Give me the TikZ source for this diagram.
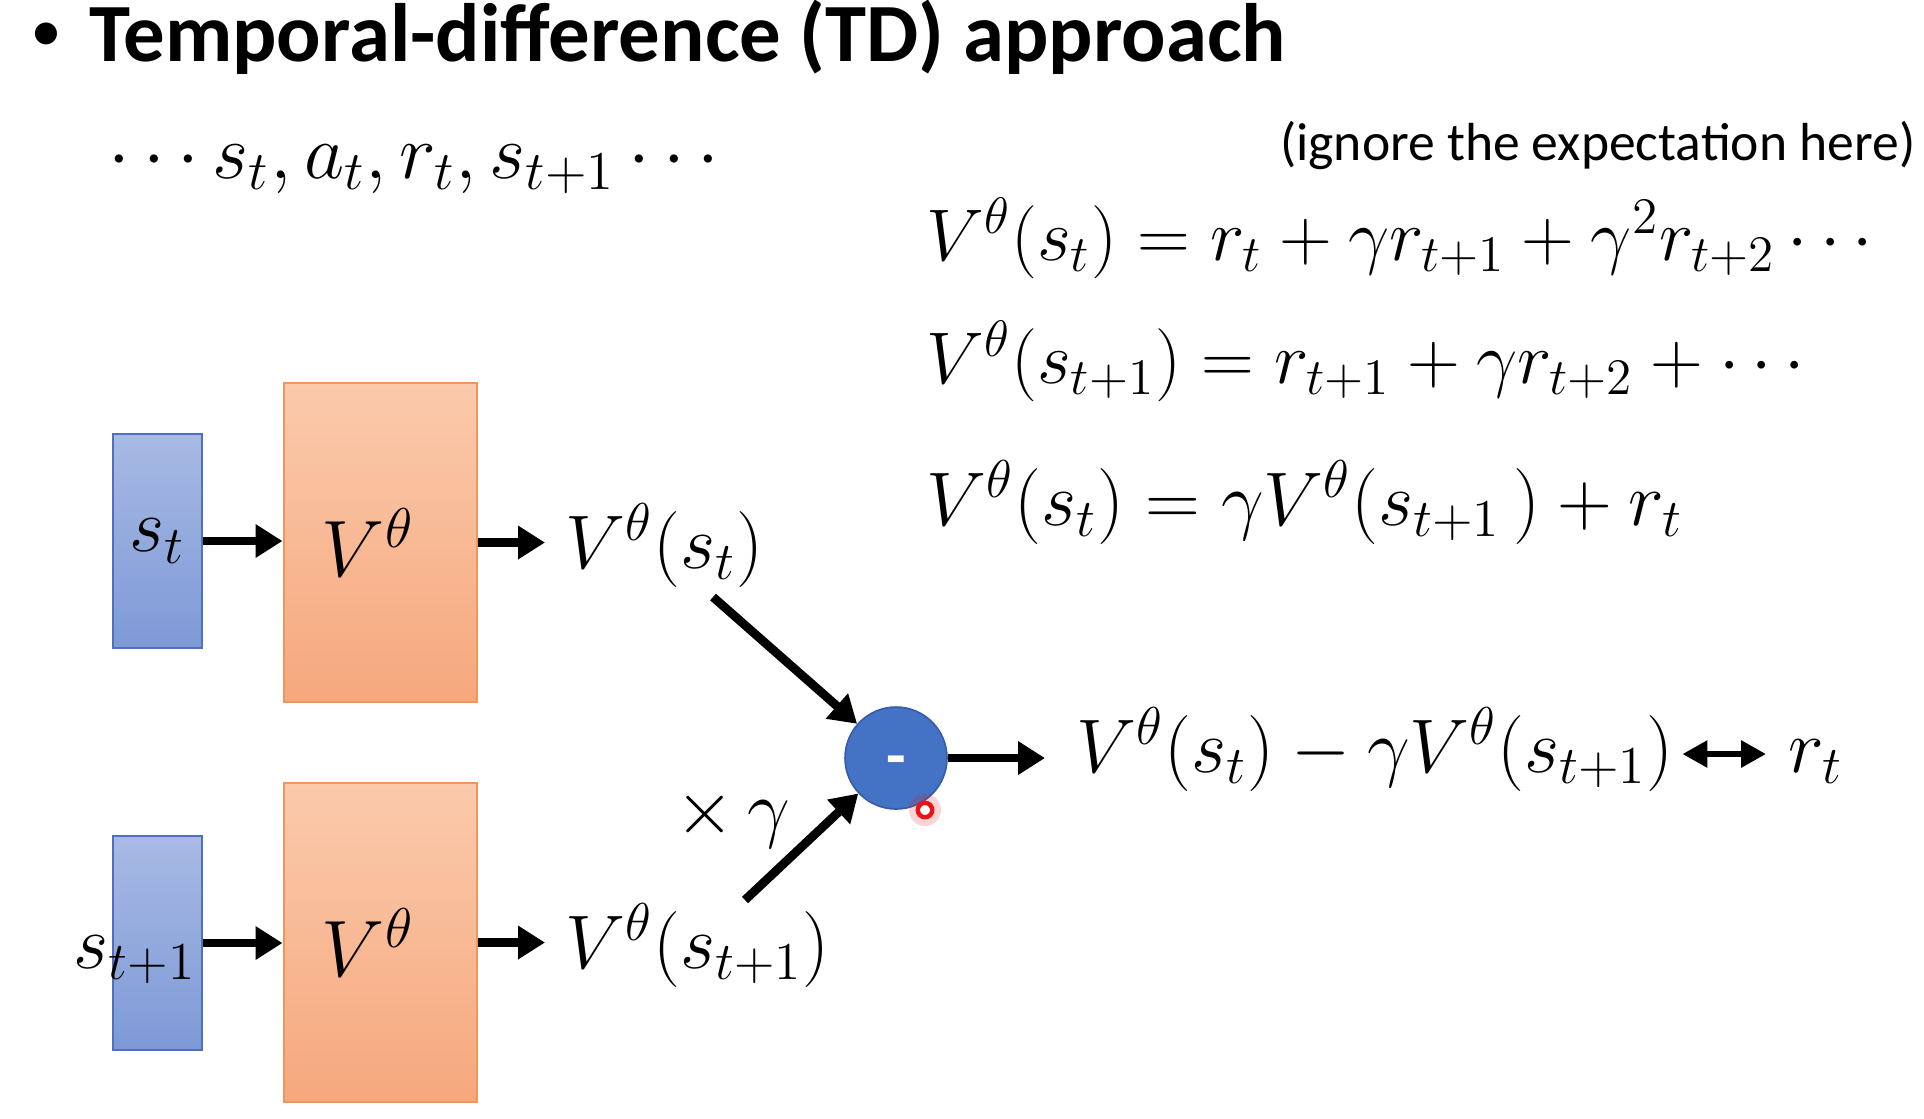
\RequirePackage{fix-cm}
\documentclass[tikz,border=0pt]{standalone}
\usepackage{amsmath}
\usepackage{fontspec}
\usepackage{tikz}
\usetikzlibrary{arrows.meta,positioning}
\newfontfamily\slidefont{Carlito}
\definecolor{InTop}{RGB}{168,186,228}
\definecolor{InBot}{RGB}{125,153,214}
\definecolor{InLine}{RGB}{80,112,190}
\definecolor{NetTop}{RGB}{250,202,172}
\definecolor{NetBot}{RGB}{246,168,125}
\definecolor{NetLine}{RGB}{238,150,95}
\definecolor{SubFill}{RGB}{68,114,196}
\definecolor{SubLine}{RGB}{52,92,170}
\definecolor{PtrRed}{RGB}{235,20,20}
\newcommand\mathsz{\fontsize{19}{23}\selectfont}
\newcommand\sumsz{\fontsize{18.3}{22}\selectfont}
\newcommand\lblsz{\fontsize{19}{23}\selectfont}
\newcommand\seqsz{\fontsize{19.5}{24}\selectfont}
\newcommand\netsz{\fontsize{20}{24}\selectfont}
\tikzset{
  inbox/.style={rectangle,draw=InLine,line width=0.5pt,top color=InTop,bottom color=InBot,
                minimum width=22.25pt,minimum height=53.5pt,inner sep=0pt,font=\lblsz},
  netbox/.style={rectangle,draw=NetLine,line width=0.5pt,top color=NetTop,bottom color=NetBot,
                 minimum width=48.25pt,minimum height=79.75pt,inner sep=0pt,font=\netsz},
  subnode/.style={circle,fill=SubFill,draw=SubLine,line width=0.4pt,minimum size=25.5pt,
                  inner sep=0pt,text=white,font=\slidefont\bfseries\fontsize{16}{18}\selectfont},
  eqn/.style={anchor=base west,inner sep=0pt,font=\mathsz},
  lbl/.style={anchor=base west,inner sep=0pt,font=\lblsz},
  heading/.style={anchor=base west,inner sep=0pt,font=\slidefont\bfseries\fontsize{20.7}{25}\selectfont},
  note/.style={anchor=base east,inner sep=0pt,font=\slidefont\fontsize{13.4}{16}\selectfont},
  flow/.style={-{Triangle[length=6.75pt,width=8pt]},line width=2.2pt},
  both/.style={{Triangle[length=6.25pt,width=6.5pt]}-{Triangle[length=6.25pt,width=6.5pt]},line width=1.5pt},
}
\begin{document}
\begin{tikzpicture}[x=0.25pt,y=-0.25pt]
  \fill[white] (0,0) rectangle (1924,1118);
  \useasboundingbox (0,0) rectangle (1924,1118);

  % heading and equations
  \node[heading] (title) at (33,61) {\raisebox{3.2pt}{\fontsize{13}{14}\selectfont\textbullet}\hspace{7.5pt}Temporal-difference (TD) approach};
  \node[eqn,font=\seqsz] (seq) at (108,178) {$\cdots s_t, a_t, r_t, s_{t+1} \cdots$};
  \node[note] (hint) at (1916,160) {(ignore the expectation here)};
  \node[eqn,font=\sumsz] (eq1) at (926,260) {$V^\theta(s_t) = r_t + \gamma r_{t+1} + \gamma^2 r_{t+2} \cdots$};
  \node[eqn,font=\sumsz] (eq2) at (926,383) {$V^\theta(s_{t+1}) = r_{t+1} + \gamma r_{t+2} + \cdots$};
  \node[eqn] (eq3) at (926,525) {$V^\theta(s_t) = \gamma V^\theta(s_{t+1}\,) + r_t$};

  % upper network
  \node[inbox] (st) at (157.5,541) {$s_t$};
  \node[netbox] (net1) at (380,542.5) {\hspace*{-6pt}$V^\theta$};
  \node[lbl] (vst) at (565,568) {$V^\theta(s_t)$};
  \draw[flow] (st.east) -- (st.east -| net1.west);
  \draw[flow,shorten >=5pt] (net1.east) -- (net1.east -| vst.west);

  % lower network
  \node[inbox] (sn1) at (157.5,943) {};
  \node[lbl] (lsn1) at (73,968) {$s_{t+1}$};
  \node[netbox] (net2) at (380,942.5) {\hspace*{-6pt}$V^\theta$};
  \node[lbl] (vsn1) at (565,968) {$V^\theta(s_{t+1})$};
  \draw[flow] (sn1.east) -- (sn1.east -| net2.west);
  \draw[flow,shorten >=5pt] (net2.east) -- (net2.east -| vsn1.west);

  % difference
  \node[subnode] (minus) at (896,758) {\raisebox{-4.8pt}[0pt][0pt]{-}};
  \coordinate (p1) at (713,597);
  \coordinate (p2) at (745,900);
  \draw[flow] (p1) -- (minus);
  \draw[flow] (p2) -- (minus);
  \node[lbl] (gam) at (675,833) {$\times\,\gamma$};
  \node[lbl] (diff) at (1076,772) {$V^\theta(s_t) - \gamma V^\theta(s_{t+1})$};
  \node[lbl] (rt) at (1788,772) {$r_t$};
  \draw[flow,shorten >=7.75pt] (minus) -- (minus -| diff.west);
  \draw[both,shorten <=2pt,shorten >=5.5pt] ([yshift=4.5pt]diff.base east) -- ([yshift=4.5pt]rt.base west);

  % pointer
  \fill[PtrRed,opacity=0.18] (925,810) circle (4pt);
  \draw[PtrRed,line width=1.1pt,fill=white] (925,810) circle (1.8pt);
\end{tikzpicture}
\end{document}
